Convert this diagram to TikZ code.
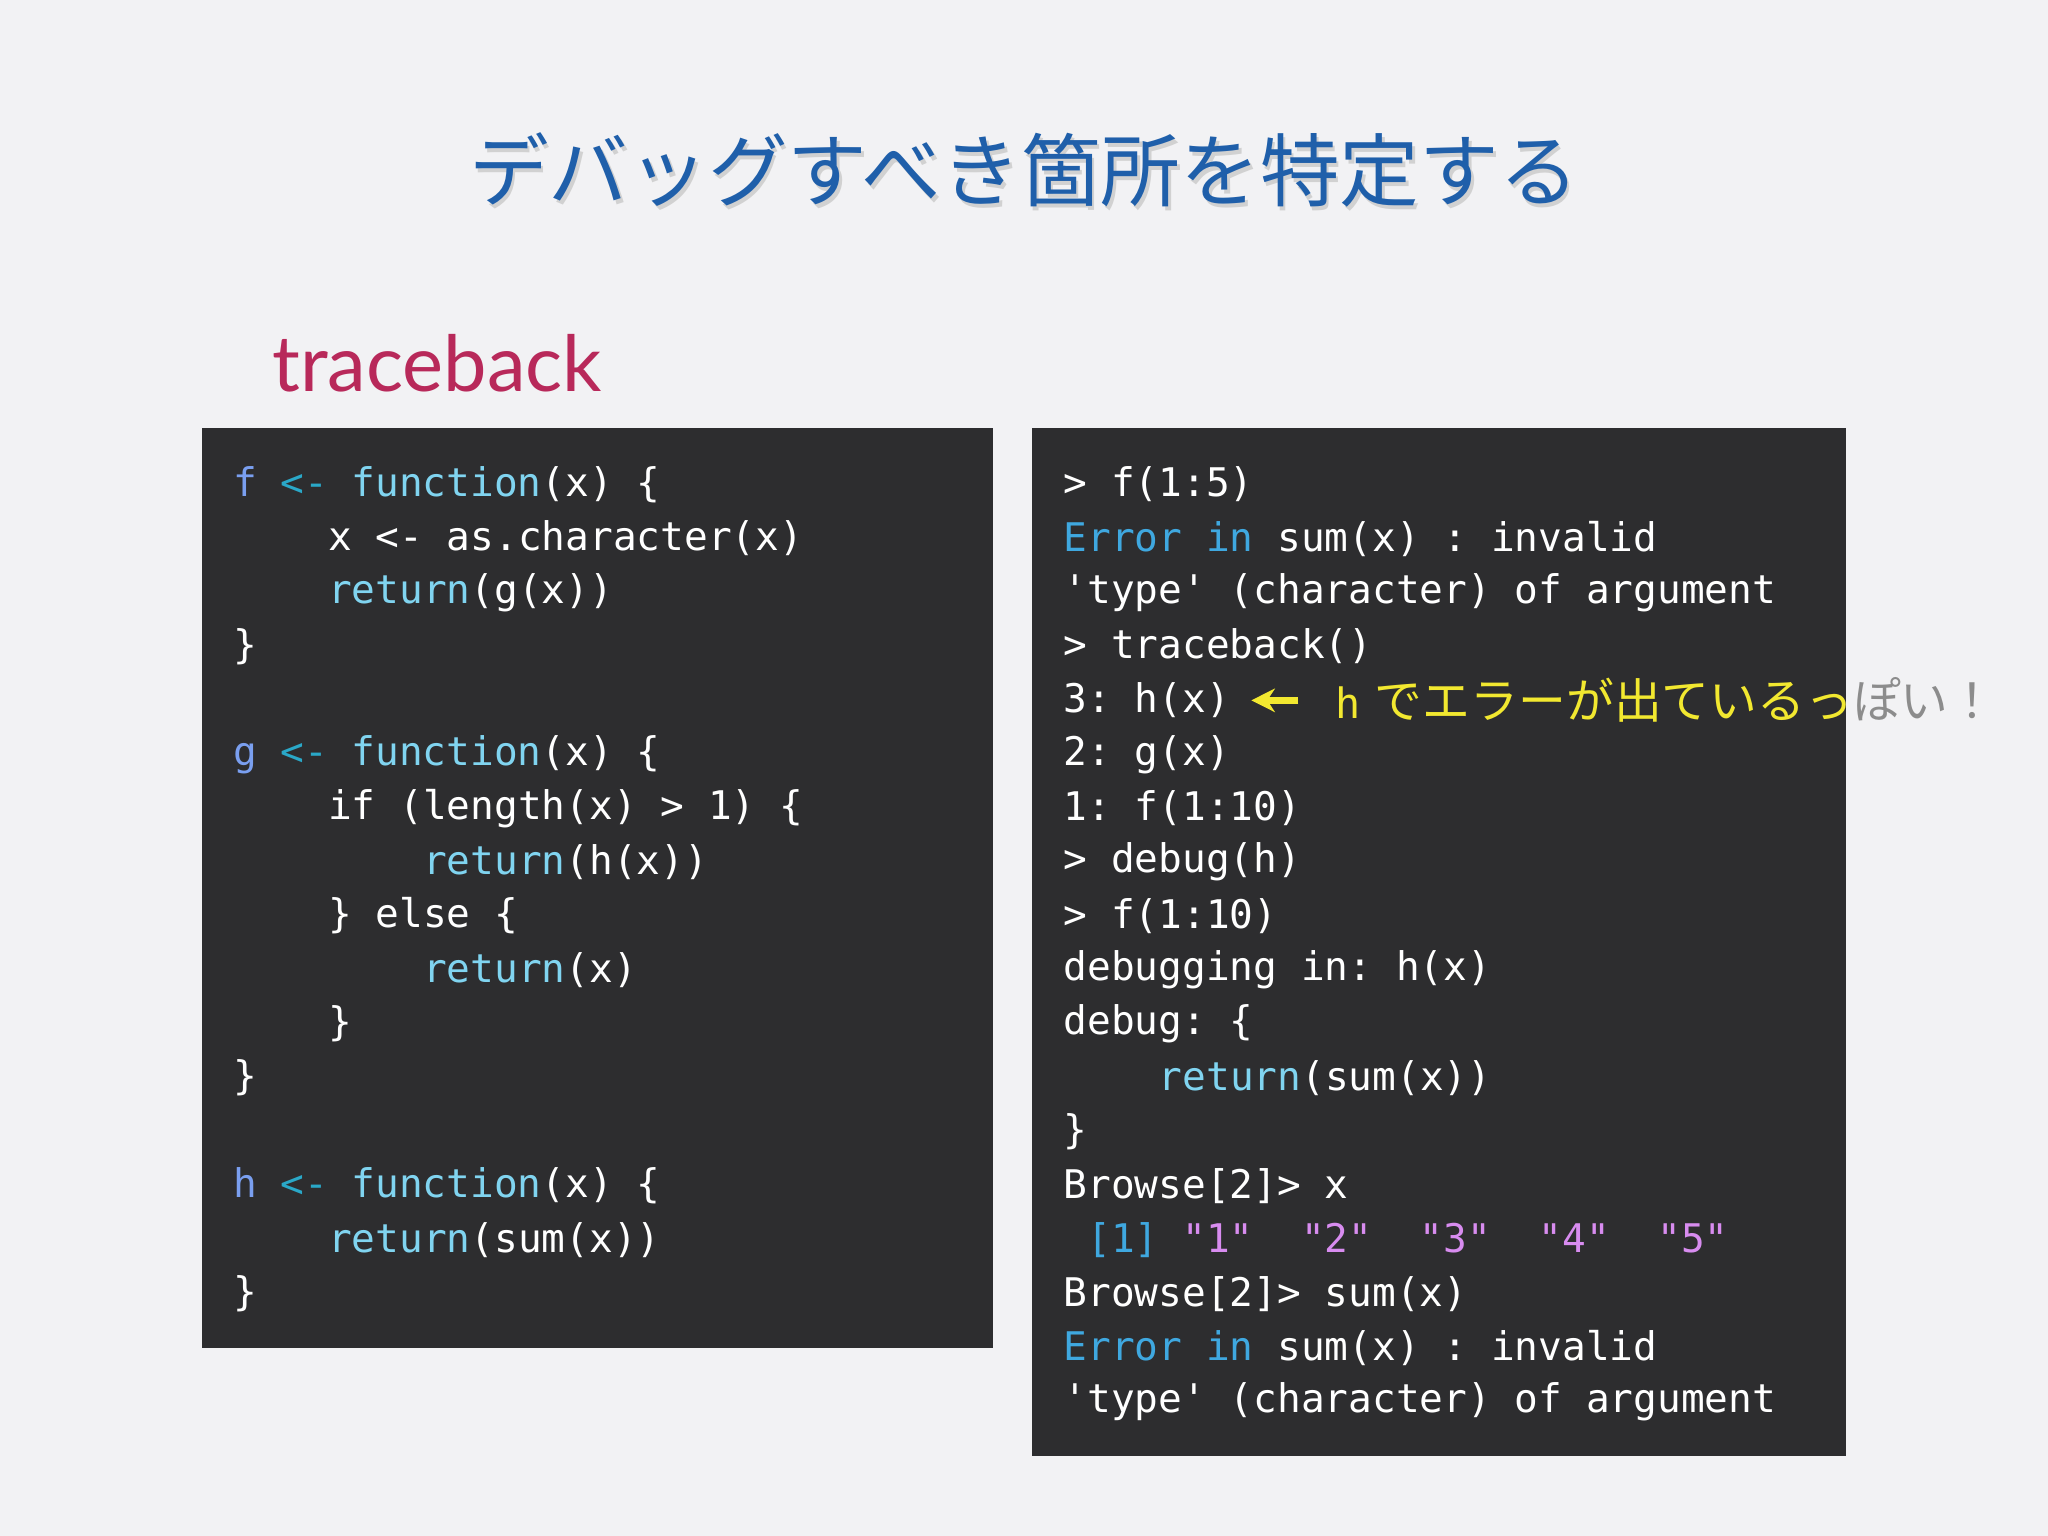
\documentclass[tikz,border=0pt]{standalone}
\usepackage{fontspec}
\usetikzlibrary{arrows.meta}
\setmonofont{DejaVu Sans Mono}
\newfontfamily\cjk{Noto Sans CJK JP}
\newfontfamily\gill{Lato}
\definecolor{bg}{HTML}{F2F2F4}
\definecolor{box}{HTML}{2D2D2F}
\definecolor{ttl}{HTML}{1F5FAA}
\definecolor{crim}{HTML}{B8295A}
\definecolor{vn}{HTML}{7A9FF0}
\definecolor{asg}{HTML}{2AA8C8}
\definecolor{kw}{HTML}{80D4F0}
\definecolor{er}{HTML}{3FA8E0}
\definecolor{str}{HTML}{D88CF0}
\definecolor{ylw}{HTML}{F2E830}
\newcommand{\V}[1]{\textcolor{vn}{#1}}
\newcommand{\A}[1]{\textcolor{asg}{#1}}
\newcommand{\K}[1]{\textcolor{kw}{#1}}
\newcommand{\E}[1]{\textcolor{er}{#1}}
\newcommand{\Q}[1]{\textcolor{str}{#1}}
\begin{document}
\begin{tikzpicture}[x=0.5pt,y=-0.5pt,
  code/.style={anchor=west,inner sep=0,font=\ttfamily\fontsize{15.1}{18}\selectfont,text=white}]
\fill[bg] (0,0) rectangle (1568,1176);
\useasboundingbox (0,0) rectangle (1568,1176);
\node[text=black!18,font=\cjk\fontsize{30.5}{34}\selectfont] at (786,133) {デバッグすべき箇所を特定する};
\node (title) [text=ttl,font=\cjk\fontsize{30.5}{34}\selectfont] at (784,130) {デバッグすべき箇所を特定する};
\node (tb) [anchor=base west,inner sep=0,text=crim,font=\gill\fontsize{29.7}{32}\selectfont] at (208,300) {traceback};
\fill[box] (155,328) rectangle (760,1032);
\fill[box] (790,328) rectangle (1413,1115);
\def\lx{178}\def\ly{371}\def\ls{41.3}\def\cw{18.2}
% left
\node[code] (l0) at (\lx,\ly) {\V{f} \A{<-} \K{function}(x) \{};
\node[code] (l1) at (\lx+4*\cw,\ly+1*\ls) {x <- as.character(x)};
\node[code] (l2) at (\lx+4*\cw,\ly+2*\ls) {\K{return}(g(x))};
\node[code] (l3) at (\lx,\ly+3*\ls) {\}};
\node[code] (l5) at (\lx,\ly+5*\ls) {\V{g} \A{<-} \K{function}(x) \{};
\node[code] (l6) at (\lx+4*\cw,\ly+6*\ls) {if (length(x) > 1) \{};
\node[code] (l7) at (\lx+8*\cw,\ly+7*\ls) {\K{return}(h(x))};
\node[code] (l8) at (\lx+4*\cw,\ly+8*\ls) {\} else \{};
\node[code] (l9) at (\lx+8*\cw,\ly+9*\ls) {\K{return}(x)};
\node[code] (l10) at (\lx+4*\cw,\ly+10*\ls) {\}};
\node[code] (l11) at (\lx,\ly+11*\ls) {\}};
\node[code] (l13) at (\lx,\ly+13*\ls) {\V{h} \A{<-} \K{function}(x) \{};
\node[code] (l14) at (\lx+4*\cw,\ly+14*\ls) {\K{return}(sum(x))};
\node[code] (l15) at (\lx,\ly+15*\ls) {\}};
% right
\def\rx{814}
\node[code] (r0) at (\rx,\ly) {> f(1:5)};
\node[code] (r1) at (\rx,\ly+1*\ls) {\E{Error in} sum(x) : invalid};
\node[code] (r2) at (\rx,\ly+2*\ls) {'type' (character) of argument};
\node[code] (r3) at (\rx,\ly+3*\ls) {> traceback()};
\node[code] (r4) at (\rx,\ly+4*\ls) {3: h(x)};
\node[code] (r5) at (\rx,\ly+5*\ls) {2: g(x)};
\node[code] (r6) at (\rx,\ly+6*\ls) {1: f(1:10)};
\node[code] (r7) at (\rx,\ly+7*\ls) {> debug(h)};
\node[code] (r8) at (\rx,\ly+8*\ls) {> f(1:10)};
\node[code] (r9) at (\rx,\ly+9*\ls) {debugging in: h(x)};
\node[code] (r10) at (\rx,\ly+10*\ls) {debug: \{};
\node[code] (r11) at (\rx+4*\cw,\ly+11*\ls) {\K{return}(sum(x))};
\node[code] (r12) at (\rx,\ly+12*\ls) {\}};
\node[code] (r13) at (\rx,\ly+13*\ls) {Browse[2]> x};
\node[code] (r14) at (\rx+\cw,\ly+14*\ls) {\E{[1]} \Q{"1"}\ \ \Q{"2"}\ \ \Q{"3"}\ \ \Q{"4"}\ \ \Q{"5"}};
\node[code] (r15) at (\rx,\ly+15*\ls) {Browse[2]> sum(x)};
\node[code] (r16) at (\rx,\ly+16*\ls) {\E{Error in} sum(x) : invalid};
\node[code] (r17) at (\rx,\ly+17*\ls) {'type' (character) of argument};
% annotation
\node[anchor=west,inner sep=0,text=ylw,font=\fontsize{18.3}{20}\selectfont] (ann) at (1022,\ly+4*\ls)
  {{\ttfamily\fontsize{16}{18}\selectfont h} {\cjk でエラーが出ているっ}\textcolor{black!45}{\cjk ぽい！}};
\draw[ylw,line width=2.5pt,-{Stealth[length=9pt,width=9pt]}] ([xshift=-14]ann.west) -- ([xshift=8]r4.east);
\end{tikzpicture}
\end{document}
